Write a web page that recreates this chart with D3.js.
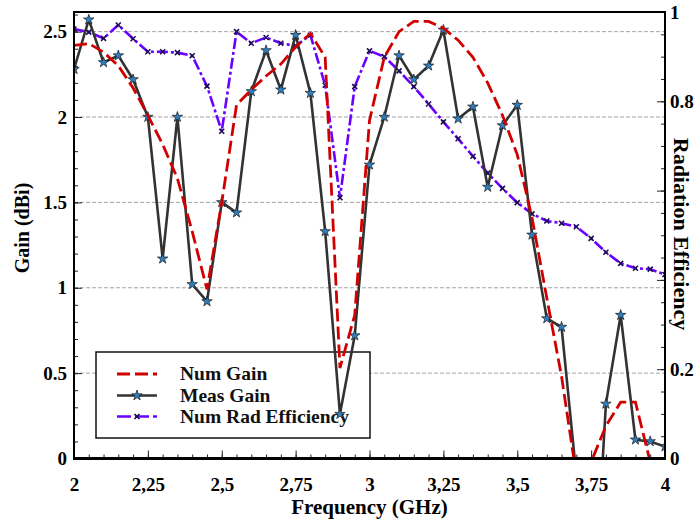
<!DOCTYPE html>
<html>
<head>
<meta charset="utf-8">
<script src="https://cdn.jsdelivr.net/npm/d3@7"></script>
<style>
  html, body { margin: 0; padding: 0; background: #fff; }
  svg { display: block; font-family: "Liberation Serif", "Times New Roman", serif; font-weight: bold; }
</style>
</head>
<body>
<svg id="chart" width="696" height="523"></svg>
<script>
// Frequency samples (GHz), 0.05 GHz step
const freq = d3.range(41).map(i => +(2 + i * 0.05).toFixed(2));

// Simulated gain (dBi)
const numGain = [2.42, 2.43, 2.38, 2.30, 2.17, 2.01, 1.84, 1.64, 1.33, 0.99,
                 1.50, 2.07, 2.16, 2.24, 2.31, 2.41, 2.49, 2.35, 0.53, 0.84,
                 1.98, 2.35, 2.50, 2.56, 2.56, 2.52, 2.45, 2.35, 2.20, 2.01,
                 1.78, 1.41, 0.94, 0.48, -0.10, -0.02, 0.19, 0.33, 0.33, -0.02,
                 -0.40];

// Measured gain (dBi)
const measGain = [2.28, 2.57, 2.32, 2.36, 2.22, 2.00, 1.17, 2.00, 1.02, 0.92,
                  1.50, 1.44, 2.15, 2.39, 2.16, 2.48, 2.14, 1.33, 0.26, 0.72,
                  1.72, 2.00, 2.36, 2.22, 2.30, 2.51, 1.99, 2.06, 1.59, 1.95,
                  2.07, 1.31, 0.82, 0.77, -0.10, -1.20, 0.32, 0.84, 0.11, 0.10,
                  0.07];

// Simulated radiation efficiency (0..1)
const radEff = [0.962, 0.955, 0.941, 0.971, 0.940, 0.911, 0.911, 0.909, 0.902, 0.834,
                0.733, 0.956, 0.930, 0.943, 0.930, 0.924, 0.948, 0.836, 0.584, 0.833,
                0.913, 0.900, 0.868, 0.833, 0.794, 0.754, 0.716, 0.677, 0.639, 0.605,
                0.573, 0.548, 0.532, 0.527, 0.519, 0.493, 0.462, 0.437, 0.426, 0.424,
                0.412];

const xTicks = [2, 2.25, 2.5, 2.75, 3, 3.25, 3.5, 3.75, 4];
const gainTicks = [0, 0.5, 1, 1.5, 2, 2.5];
const effTicks = [0, 0.2, 0.8, 1];
const seriesNames = ["Num Gain", "Meas Gain", "Num Rad Efficiency"];

const plot = { left: 74, right: 665, top: 12, bottom: 458.5 };

const svg = d3.select("#chart");

const x = d3.scaleLinear().domain([2, 4]).range([plot.left, plot.right]);
const yL = d3.scaleLinear().domain([0, 2.615]).range([plot.bottom, plot.top]);
const yR = d3.scaleLinear().domain([0, 1]).range([plot.bottom, plot.top]);

// clip region for the data
svg.append("defs").append("clipPath").attr("id", "plotClip")
  .append("rect")
  .attr("x", plot.left).attr("y", plot.top)
  .attr("width", plot.right - plot.left).attr("height", plot.bottom - plot.top);

// horizontal grid at gain majors
svg.append("g").selectAll("line")
  .data(gainTicks.filter(d => d > 0))
  .join("line")
  .attr("x1", plot.left).attr("x2", plot.right)
  .attr("y1", d => yL(d)).attr("y2", d => yL(d))
  .attr("stroke", "#9a9a9a").attr("stroke-width", 0.9)
  .attr("stroke-dasharray", "4,2");

// axes with inward ticks
const fmtX = d => String(d).replace(".", ",");

const xMinor = d3.axisBottom(x).tickValues(d3.range(41).map(i => 2 + i * 0.05))
  .tickSize(-4).tickFormat("");
svg.append("g").attr("transform", `translate(0,${plot.bottom})`).call(xMinor);
const xMajor = d3.axisBottom(x).tickValues(xTicks).tickSize(-8).tickPadding(19).tickFormat(fmtX);
svg.append("g").attr("class", "xaxis").attr("transform", `translate(0,${plot.bottom})`).call(xMajor);

const yLMinor = d3.axisLeft(yL).tickValues(d3.range(27).map(i => i * 0.1)).tickSize(-4).tickFormat("");
svg.append("g").attr("transform", `translate(${plot.left},0)`).call(yLMinor);
const yLMajor = d3.axisLeft(yL).tickValues(gainTicks).tickSize(-8).tickPadding(7).tickFormat(d3.format("~g"));
svg.append("g").attr("class", "yaxis").attr("transform", `translate(${plot.left},0)`).call(yLMajor);

const yRMinor = d3.axisRight(yR).tickValues(d3.range(21).map(i => i * 0.05)).tickSize(-4).tickFormat("");
svg.append("g").attr("transform", `translate(${plot.right},0)`).call(yRMinor);
const yRMajorTicks = d3.axisRight(yR).tickValues([0, 0.2, 0.4, 0.6, 0.8, 1]).tickSize(-8).tickFormat("");
svg.append("g").attr("transform", `translate(${plot.right},0)`).call(yRMajorTicks);
const yRLabels = d3.axisRight(yR).tickValues(effTicks).tickSize(0).tickPadding(5).tickFormat(d3.format("~g"));
svg.append("g").attr("class", "yaxis").attr("transform", `translate(${plot.right},0)`).call(yRLabels);

svg.selectAll(".domain").remove();
svg.selectAll(".tick line").attr("stroke", "#222").attr("stroke-width", 1);
svg.selectAll(".xaxis text, .yaxis text")
  .attr("font-family", "Liberation Serif, Times New Roman, serif")
  .attr("font-weight", "bold").attr("font-size", 19).attr("fill", "#000");

// legend box sits under the data curves
const lg = svg.append("g").attr("transform", "translate(96,352)");
lg.append("rect").attr("width", 274).attr("height", 86)
  .attr("fill", "#fff").attr("stroke", "#111").attr("stroke-width", 1.5);
const rows = [22, 43.5, 64.5];
lg.append("line").attr("x1", 21).attr("x2", 61).attr("y1", rows[0]).attr("y2", rows[0])
  .attr("stroke", "#d00000").attr("stroke-width", 2.8).attr("stroke-dasharray", "13,5");
lg.append("line").attr("x1", 21).attr("x2", 61).attr("y1", rows[1]).attr("y2", rows[1])
  .attr("stroke", "#333333").attr("stroke-width", 2.6);
lg.append("path").attr("transform", `translate(41,${rows[1]})`)
  .attr("d", d3.symbol(d3.symbolStar, 34))
  .attr("fill", "#2f7fc0").attr("stroke", "#1a1a1a").attr("stroke-width", 0.7);
lg.append("line").attr("x1", 21).attr("x2", 61).attr("y1", rows[2]).attr("y2", rows[2])
  .attr("stroke", "#6a00ff").attr("stroke-width", 2.6).attr("stroke-dasharray", "14,4");
lg.append("path").attr("transform", `translate(41,${rows[2]})`)
  .attr("d", d3.symbol(d3.symbolTimes, 18))
  .attr("fill", "none").attr("stroke", "#1c0a55").attr("stroke-width", 1.6);
lg.selectAll("text.lab").data(seriesNames).join("text")
  .attr("class", "lab")
  .attr("x", 84).attr("y", (d, i) => rows[i]).attr("dy", "0.33em")
  .attr("font-size", 19.5).attr("fill", "#111")
  .text(d => d);

// data lines
const g = svg.append("g").attr("clip-path", "url(#plotClip)");

const effLine = d3.line().x((d, i) => x(freq[i])).y(d => yR(d));
g.append("path").datum(radEff)
  .attr("d", effLine).attr("fill", "none")
  .attr("stroke", "#6a00ff").attr("stroke-width", 2.6)
  .attr("stroke-dasharray", "11,3,3,3");
g.append("g").selectAll("path")
  .data(radEff).join("path")
  .attr("transform", (d, i) => `translate(${x(freq[i])},${yR(d)})`)
  .attr("d", d3.symbol(d3.symbolTimes, 18))
  .attr("fill", "none").attr("stroke", "#1c0a55").attr("stroke-width", 1.6);

const gainLine = d3.line().x((d, i) => x(freq[i])).y(d => yL(d));
g.append("path").datum(measGain)
  .attr("d", gainLine).attr("fill", "none")
  .attr("stroke", "#333333").attr("stroke-width", 2.6).attr("stroke-linejoin", "miter");
g.append("g").selectAll("path")
  .data(measGain).join("path")
  .attr("transform", (d, i) => `translate(${x(freq[i])},${yL(d)})`)
  .attr("d", d3.symbol(d3.symbolStar, 34))
  .attr("fill", "#2f7fc0").attr("stroke", "#1a1a1a").attr("stroke-width", 0.7);

g.append("path").datum(numGain)
  .attr("d", gainLine).attr("fill", "none")
  .attr("stroke", "#d00000").attr("stroke-width", 2.8)
  .attr("stroke-dasharray", "13,5");

// frame
svg.append("rect")
  .attr("x", plot.left).attr("y", plot.top)
  .attr("width", plot.right - plot.left).attr("height", plot.bottom - plot.top)
  .attr("fill", "none").attr("stroke", "#000").attr("stroke-width", 2);
svg.append("line")
  .attr("x1", plot.left - 1).attr("x2", plot.right + 1)
  .attr("y1", plot.bottom).attr("y2", plot.bottom)
  .attr("stroke", "#000").attr("stroke-width", 3);

// axis titles
svg.append("text")
  .attr("x", (plot.left + plot.right) / 2).attr("y", 514)
  .attr("text-anchor", "middle").attr("font-size", 21)
  .text("Frequency (GHz)");
svg.append("text")
  .attr("transform", "translate(29,228) rotate(-90)")
  .attr("text-anchor", "middle").attr("font-size", 20)
  .text("Gain (dBi)");
svg.append("text")
  .attr("transform", "translate(674,234) rotate(90)")
  .attr("text-anchor", "middle").attr("font-size", 22)
  .text("Radiation Efficiency");
</script>
</body>
</html>
